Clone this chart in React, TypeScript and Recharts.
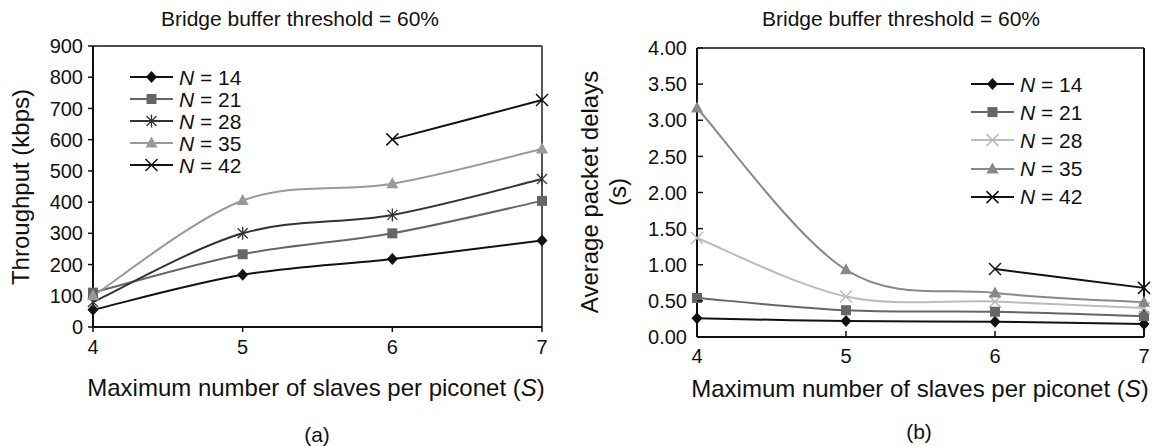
import React from 'react';
import { LineChart, Line, XAxis, YAxis, ReferenceLine, Legend } from 'recharts';

// ---------- data ----------
const S_VALUES = [4, 5, 6, 7];
const SERIES_N = ['14', '21', '28', '35', '42'];

const THROUGHPUT_N14 = [55, 167, 218, 277];
const THROUGHPUT_N21 = [110, 233, 300, 404];
const THROUGHPUT_N28 = [80, 300, 359, 474];
const THROUGHPUT_N35 = [100, 405, 459, 570];
const THROUGHPUT_N42 = [null, null, 601, 727];

const DELAY_N14 = [0.26, 0.22, 0.21, 0.18];
const DELAY_N21 = [0.54, 0.37, 0.35, 0.29];
const DELAY_N28 = [1.37, 0.56, 0.49, 0.4];
const DELAY_N35 = [3.17, 0.93, 0.61, 0.48];
const DELAY_N42 = [null, null, 0.94, 0.68];

const THROUGHPUT_TICKS = [0, 100, 200, 300, 400, 500, 600, 700, 800, 900];
const DELAY_TICKS = [0, 0.5, 1, 1.5, 2, 2.5, 3, 3.5, 4];
const X_TICKS = [4, 5, 6, 7];

const TITLE = 'Bridge buffer threshold = 60%';

const throughputData = S_VALUES.map((s, i) => ({
  s,
  n14: THROUGHPUT_N14[i],
  n21: THROUGHPUT_N21[i],
  n28: THROUGHPUT_N28[i],
  n35: THROUGHPUT_N35[i],
  n42: THROUGHPUT_N42[i],
}));

const delayData = S_VALUES.map((s, i) => ({
  s,
  n14: DELAY_N14[i],
  n21: DELAY_N21[i],
  n28: DELAY_N28[i],
  n35: DELAY_N35[i],
  n42: DELAY_N42[i],
}));

const KEYS = ['n14', 'n21', 'n28', 'n35', 'n42'];

// ---------- styles ----------
const FONT = '"Liberation Sans", Arial, Helvetica, sans-serif';
const LEFT_STYLE: Record<string, { color: string; shape: string }> = {
  n14: { color: '#111', shape: 'diamond' },
  n21: { color: '#666', shape: 'square' },
  n28: { color: '#333', shape: 'star' },
  n35: { color: '#999', shape: 'triangle' },
  n42: { color: '#111', shape: 'x' },
};
const RIGHT_STYLE: Record<string, { color: string; shape: string }> = {
  n14: { color: '#111', shape: 'diamond' },
  n21: { color: '#666', shape: 'square' },
  n28: { color: '#bbb', shape: 'x' },
  n35: { color: '#888', shape: 'triangle' },
  n42: { color: '#111', shape: 'x' },
};

// Catmull-Rom style smoothing (like spreadsheet "smoothed line")
function smoothCurve(context: any) {
  let pts: number[][] = [];
  return {
    areaStart() {},
    areaEnd() {},
    lineStart() {
      pts = [];
    },
    lineEnd() {
      const n = pts.length;
      if (n === 0) return;
      context.moveTo(pts[0][0], pts[0][1]);
      if (n === 1) {
        context.lineTo(pts[0][0], pts[0][1]);
        return;
      }
      for (let i = 0; i < n - 1; i++) {
        const p0 = pts[Math.max(i - 1, 0)];
        const p1 = pts[i];
        const p2 = pts[i + 1];
        const p3 = pts[Math.min(i + 2, n - 1)];
        context.bezierCurveTo(
          p1[0] + (p2[0] - p0[0]) / 6,
          p1[1] + (p2[1] - p0[1]) / 6,
          p2[0] - (p3[0] - p1[0]) / 6,
          p2[1] - (p3[1] - p1[1]) / 6,
          p2[0],
          p2[1]
        );
      }
    },
    point(x: number, y: number) {
      pts.push([+x, +y]);
    },
  };
}

function Marker({ shape, cx, cy, color }: { shape: string; cx: number; cy: number; color: string }) {
  switch (shape) {
    case 'diamond':
      return <polygon points={`${cx},${cy - 6} ${cx + 5.5},${cy} ${cx},${cy + 6} ${cx - 5.5},${cy}`} fill={color} />;
    case 'square':
      return <rect x={cx - 5} y={cy - 5} width={10} height={10} fill={color} />;
    case 'triangle':
      return <polygon points={`${cx},${cy - 6.5} ${cx + 6},${cy + 4.5} ${cx - 6},${cy + 4.5}`} fill={color} />;
    case 'star':
      return (
        <g stroke={color} strokeWidth={1.3}>
          <line x1={cx - 5} y1={cy - 5} x2={cx + 5} y2={cy + 5} />
          <line x1={cx - 5} y1={cy + 5} x2={cx + 5} y2={cy - 5} />
          <line x1={cx} y1={cy - 6.5} x2={cx} y2={cy + 6.5} />
        </g>
      );
    case 'x':
    default:
      return (
        <g stroke={color} strokeWidth={1.5}>
          <line x1={cx - 6} y1={cy - 6} x2={cx + 6} y2={cy + 6} />
          <line x1={cx - 6} y1={cy + 6} x2={cx + 6} y2={cy - 6} />
        </g>
      );
  }
}

const makeDot = (shape: string, color: string) => (props: any) => {
  const { cx, cy, key, value } = props;
  if (cx == null || cy == null || value == null) return <g key={key} />;
  return (
    <g key={key}>
      <Marker shape={shape} cx={cx} cy={cy} color={color} />
    </g>
  );
};

const makeLegend = (styles: Record<string, { color: string; shape: string }>, rowH: number) => (props: any) => {
  const payload = props.payload || [];
  return (
    <div style={{ fontFamily: FONT, fontSize: 21, color: '#111' }}>
      {payload.map((entry: any) => {
        const st = styles[entry.dataKey];
        const label = String(entry.value).replace('N = ', '');
        return (
          <div key={entry.dataKey} style={{ display: 'flex', alignItems: 'center', height: rowH }}>
            <svg width={43} height={rowH} style={{ display: 'block' }}>
              <line x1={0} y1={rowH / 2} x2={43} y2={rowH / 2} stroke={st.color} strokeWidth={2} />
              <Marker shape={st.shape} cx={21.5} cy={rowH / 2} color={st.color} />
            </svg>
            <span style={{ marginLeft: 6, lineHeight: 1, whiteSpace: 'nowrap' }}>
              <i>N</i> = {label}
            </span>
          </div>
        );
      })}
    </div>
  );
};

// inside-pointing ticks for the right chart
const InsideYTick = (props: any) => {
  const { x, y, payload } = props;
  return (
    <g>
      <line x1={x + 10} y1={y} x2={x + 16} y2={y} stroke="#111" strokeWidth={1.5} />
      <text x={x} y={y} dy="0.36em" textAnchor="end" fontFamily={FONT} fontSize={20} fill="#111">
        {Number(payload.value).toFixed(2)}
      </text>
    </g>
  );
};
const InsideXTick = (props: any) => {
  const { x, y, payload } = props;
  return (
    <g>
      <line x1={x} y1={y - 12} x2={x} y2={y - 18} stroke="#111" strokeWidth={1.5} />
      <text x={x} y={y} dy="0.72em" textAnchor="middle" fontFamily={FONT} fontSize={20} fill="#111">
        {payload.value}
      </text>
    </g>
  );
};

const tickStyle = { fontFamily: FONT, fontSize: 20, fill: '#111' };

const textBase: React.CSSProperties = {
  position: 'absolute',
  transform: 'translate(-50%, -50%)',
  whiteSpace: 'nowrap',
  lineHeight: 1,
  fontFamily: FONT,
  color: '#111',
};

export default function App() {
  return (
    <div style={{ position: 'absolute', left: 0, top: 0, width: 1155, height: 446, background: '#fff', overflow: 'hidden' }}>
      {/* Left chart */}
      <div style={{ position: 'absolute', left: 0, top: 0 }}>
        <LineChart width={580} height={446} data={throughputData} margin={{ top: 46, right: 38, bottom: 89, left: 0 }}>
          <XAxis
            dataKey="s"
            type="number"
            domain={[4, 7]}
            ticks={X_TICKS}
            interval={0}
            height={30}
            tick={tickStyle}
            tickSize={5}
            tickMargin={8}
            axisLine={{ stroke: '#111', strokeWidth: 2 }}
            tickLine={{ stroke: '#111', strokeWidth: 1.5 }}
          />
          <YAxis
            type="number"
            domain={[0, 900]}
            ticks={THROUGHPUT_TICKS}
            interval={0}
            width={93}
            tick={tickStyle}
            tickSize={5}
            tickMargin={5}
            axisLine={{ stroke: '#111', strokeWidth: 2 }}
            tickLine={{ stroke: '#111', strokeWidth: 1.5 }}
          />
          <ReferenceLine y={900} stroke="#111" strokeWidth={1.5} />
          <ReferenceLine x={7} stroke="#555" strokeWidth={2} />
          {KEYS.map((k, i) => (
            <Line
              key={k}
              dataKey={k}
              name={`N = ${SERIES_N[i]}`}
              type={smoothCurve as any}
              stroke={LEFT_STYLE[k].color}
              strokeWidth={2}
              dot={makeDot(LEFT_STYLE[k].shape, LEFT_STYLE[k].color)}
              activeDot={false}
              connectNulls={false}
              isAnimationActive={false}
            />
          ))}
          <Legend
            layout="horizontal"
            verticalAlign="middle"
            align="center"
            content={makeLegend(LEFT_STYLE, 22)}
            wrapperStyle={{ left: 130, top: 66, width: 140, height: 112 }}
          />
        </LineChart>
        <div style={{ ...textBase, left: 300, top: 18, fontSize: 21 }}>{TITLE}</div>
        <div style={{ ...textBase, left: 21, top: 187, fontSize: 24, transform: 'translate(-50%, -50%) rotate(-90deg)' }}>
          Throughput (kbps)
        </div>
        <div style={{ ...textBase, left: 316, top: 388, fontSize: 24 }}>
          Maximum number of slaves per piconet (<i>S</i>)
        </div>
        <div style={{ ...textBase, left: 317, top: 434, fontSize: 21 }}>(a)</div>
      </div>

      {/* Right chart */}
      <div style={{ position: 'absolute', left: 580, top: 0 }}>
        <LineChart width={575} height={446} data={delayData} margin={{ top: 48, right: 11, bottom: 79, left: 0 }}>
          <XAxis
            dataKey="s"
            type="number"
            domain={[4, 7]}
            ticks={X_TICKS}
            interval={0}
            height={30}
            tick={<InsideXTick />}
            tickSize={0}
            tickMargin={12}
            axisLine={{ stroke: '#111', strokeWidth: 2 }}
            tickLine={false}
          />
          <YAxis
            type="number"
            domain={[0, 4]}
            ticks={DELAY_TICKS}
            interval={0}
            width={117}
            tick={<InsideYTick />}
            tickSize={0}
            tickMargin={10}
            axisLine={{ stroke: '#111', strokeWidth: 2 }}
            tickLine={false}
          />
          <ReferenceLine y={4} stroke="#111" strokeWidth={1.5} />
          <ReferenceLine x={7} stroke="#111" strokeWidth={2} />
          {KEYS.map((k, i) => (
            <Line
              key={k}
              dataKey={k}
              name={`N = ${SERIES_N[i]}`}
              type={smoothCurve as any}
              stroke={RIGHT_STYLE[k].color}
              strokeWidth={2}
              dot={makeDot(RIGHT_STYLE[k].shape, RIGHT_STYLE[k].color)}
              activeDot={false}
              connectNulls={false}
              isAnimationActive={false}
            />
          ))}
          <Legend
            layout="horizontal"
            verticalAlign="middle"
            align="center"
            content={makeLegend(RIGHT_STYLE, 28.2)}
            wrapperStyle={{ left: 391, top: 70, width: 150, height: 145 }}
          />
        </LineChart>
        <div style={{ ...textBase, left: 321, top: 18, fontSize: 21 }}>{TITLE}</div>
        <div
          style={{
            ...textBase,
            left: 24,
            top: 192,
            fontSize: 24,
            textAlign: 'center',
            lineHeight: '28px',
            transform: 'translate(-50%, -50%) rotate(-90deg)',
          }}
        >
          Average packet delays
          <br />
          (s)
        </div>
        <div style={{ ...textBase, left: 340, top: 389, fontSize: 24 }}>
          Maximum number of slaves per piconet (<i>S</i>)
        </div>
        <div style={{ ...textBase, left: 339, top: 431, fontSize: 21 }}>(b)</div>
      </div>
    </div>
  );
}
